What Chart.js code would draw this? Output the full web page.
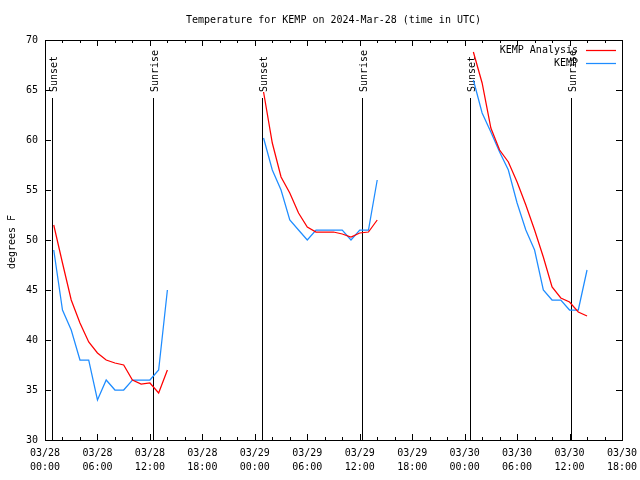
<!DOCTYPE html>
<html>
<head>
<meta charset="utf-8">
<script src="https://cdn.jsdelivr.net/npm/chart.js@4"></script>
<style>
  html, body { margin: 0; padding: 0; background: #fff; }
</style>
</head>
<body>
<canvas id="tempChart" width="640" height="480"></canvas>
<script>
const ctx = document.getElementById("tempChart");

// hours since 03/28 00:00 UTC
const hours = [1, 2, 3, 4, 5, 6, 7, 8, 9, 10, 11, 12, 13, 14,
  25, 26, 27, 28, 29, 30, 31, 32, 33, 34, 35, 36, 37, 38,
  49, 50, 51, 52, 53, 54, 55, 56, 57, 58, 59, 60, 61, 62];
const analysisTemps = [51.5, 47.7, 44.0, 41.7, 39.8, 38.7, 38.0, 37.7, 37.5, 36.0, 35.6, 35.7, 34.7, 37.0,
  64.8, 59.7, 56.3, 54.7, 52.7, 51.3, 50.8, 50.8, 50.8, 50.6, 50.3, 50.7, 50.8, 52.0,
  68.8, 65.7, 61.2, 59.0, 57.8, 55.8, 53.5, 51.0, 48.3, 45.3, 44.2, 43.8, 42.8, 42.4];
const kempTemps = [49.0, 43.0, 41.0, 38.0, 38.0, 34.0, 36.0, 35.0, 35.0, 36.0, 36.0, 36.0, 37.0, 45.0,
  60.2, 57.0, 55.0, 52.0, 51.0, 50.0, 51.0, 51.0, 51.0, 51.0, 50.0, 51.0, 51.0, 56.0,
  66.0, 62.7, 60.8, 58.8, 57.0, 53.7, 51.0, 49.0, 45.0, 44.0, 44.0, 43.0, 43.0, 47.0];

const sunTimes = [0.84, 12.39, 24.8, 36.3, 48.67, 60.18];
const sunNames = ["Sunset", "Sunrise", "Sunset", "Sunrise", "Sunset", "Sunrise"];

const xTickHours = [0, 6, 12, 18, 24, 30, 36, 42, 48, 54, 60, 66];
const xTickLabels = [
  ["03/28", "00:00"], ["03/28", "06:00"], ["03/28", "12:00"], ["03/28", "18:00"],
  ["03/29", "00:00"], ["03/29", "06:00"], ["03/29", "12:00"], ["03/29", "18:00"],
  ["03/30", "00:00"], ["03/30", "06:00"], ["03/30", "12:00"], ["03/30", "18:00"],
];
const yTicks = [30, 35, 40, 45, 50, 55, 60, 65, 70];

const FONT = "10px 'DejaVu Sans Mono', monospace";

function toPoints(values) {
  const pts = [];
  hours.forEach((h, i) => {
    if (i > 0 && h - hours[i - 1] > 1) pts.push({ x: (h + hours[i - 1]) / 2, y: null });
    pts.push({ x: h, y: values[i] });
  });
  return pts;
}

const gnuplotLook = {
  id: "gnuplotLook",
  beforeDatasetsDraw(chart) {
    const { ctx: c, chartArea: a, scales } = chart;
    c.save();
    c.strokeStyle = "#000";
    c.lineWidth = 1;
    c.font = FONT;
    c.fillStyle = "#000";
    const top = scales.y.getPixelForValue(64.2);
    sunTimes.forEach((t, i) => {
      const x = Math.round(scales.x.getPixelForValue(t)) + 0.5;
      c.beginPath();
      c.moveTo(x, top);
      c.lineTo(x, a.bottom);
      c.stroke();
      c.save();
      c.translate(x + 4, top - 6);
      c.rotate(-Math.PI / 2);
      c.textAlign = "left";
      c.textBaseline = "alphabetic";
      c.fillText(sunNames[i], 0, 0);
      c.restore();
    });
    c.restore();
  },
  afterDraw(chart) {
    const { ctx: c, chartArea: a, scales } = chart;
    c.save();
    c.strokeStyle = "#000";
    c.fillStyle = "#000";
    c.lineWidth = 1;
    c.font = FONT;

    // frame
    c.strokeRect(Math.round(a.left) + 0.5, Math.round(a.top) + 0.5,
      Math.round(a.right - a.left), Math.round(a.bottom - a.top));

    // x ticks (inward, mirrored), minor every 2h
    for (let h = 0; h <= 66; h += 2) {
      const x = Math.round(scales.x.getPixelForValue(h)) + 0.5;
      const len = h % 6 === 0 ? 6 : 3;
      c.beginPath();
      c.moveTo(x, a.bottom); c.lineTo(x, a.bottom - len);
      c.moveTo(x, a.top); c.lineTo(x, a.top + len);
      c.stroke();
    }
    c.textAlign = "center";
    c.textBaseline = "middle";
    xTickHours.forEach((h, i) => {
      const x = scales.x.getPixelForValue(h);
      c.fillText(xTickLabels[i][0], x, a.bottom + 13);
      c.fillText(xTickLabels[i][1], x, a.bottom + 27);
    });

    // y ticks
    c.textAlign = "right";
    yTicks.forEach((v) => {
      const y = Math.round(scales.y.getPixelForValue(v)) + 0.5;
      c.beginPath();
      c.moveTo(a.left, y); c.lineTo(a.left + 6, y);
      c.moveTo(a.right, y); c.lineTo(a.right - 6, y);
      c.stroke();
      c.fillText(String(v), a.left - 7, y);
    });

    // title
    c.textAlign = "center";
    c.fillText("Temperature for KEMP on 2024-Mar-28 (time in UTC)", (a.left + a.right) / 2, 20);

    // y label
    c.save();
    c.translate(12, 242);
    c.rotate(-Math.PI / 2);
    c.fillText("degrees F", 0, 0);
    c.restore();

    // legend
    c.textAlign = "right";
    chart.data.datasets.forEach((ds, i) => {
      const y = 50 + i * 13;
      c.fillStyle = "#000";
      c.fillText(ds.label, 578, y);
      c.strokeStyle = ds.borderColor;
      c.lineWidth = 1.25;
      c.beginPath();
      c.moveTo(586, y + 0.5); c.lineTo(616, y + 0.5);
      c.stroke();
    });
    c.restore();
  },
};

new Chart(ctx, {
  type: "line",
  data: {
    datasets: [
      {
        label: "KEMP Analysis",
        data: toPoints(analysisTemps),
        borderColor: "#ff0000",
        borderWidth: 1.25,
        pointRadius: 0,
        tension: 0,
        spanGaps: false,
      },
      {
        label: "KEMP",
        data: toPoints(kempTemps),
        borderColor: "#1e8cff",
        borderWidth: 1.25,
        pointRadius: 0,
        tension: 0,
        spanGaps: false,
      },
    ],
  },
  options: {
    responsive: false,
    animation: false,
    devicePixelRatio: 1,
    layout: { padding: { left: 45, right: 18, top: 40, bottom: 40 } },
    scales: {
      x: { type: "linear", min: 0, max: 66, display: false },
      y: { min: 30, max: 70, display: false },
    },
    plugins: {
      legend: { display: false },
      title: { display: false },
      tooltip: { enabled: false },
    },
  },
  plugins: [gnuplotLook],
});
</script>
</body>
</html>
